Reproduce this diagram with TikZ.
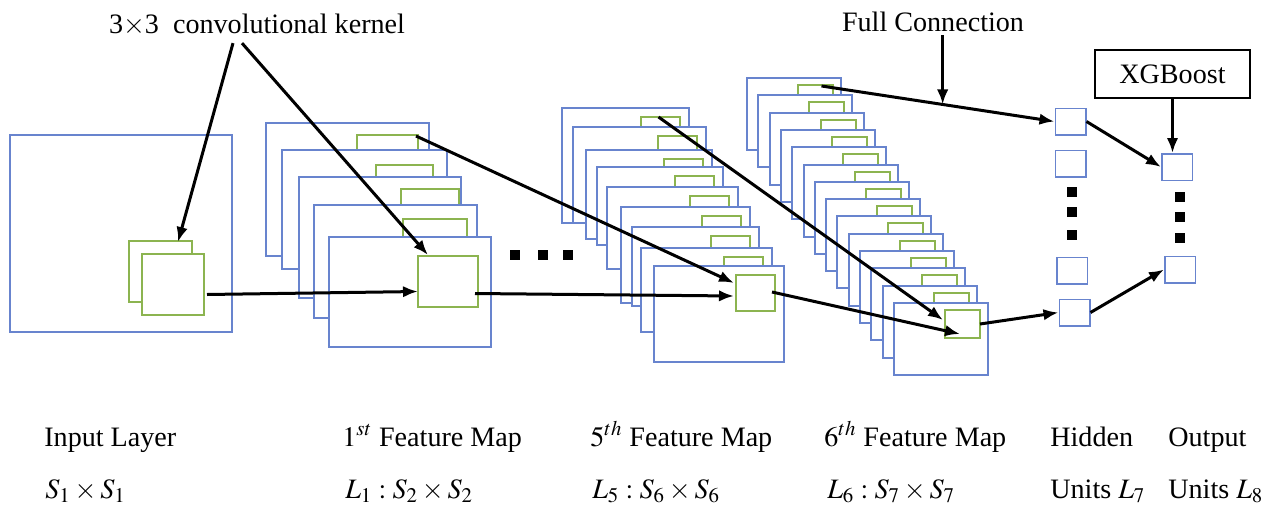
\documentclass[tikz,border=0pt]{standalone}
\usepackage{mathptmx}
\usepackage{fontspec}
\setmainfont{Liberation Serif}
\usetikzlibrary{arrows.meta, calc}

\definecolor{sheetblue}{RGB}{104,132,206}
\definecolor{kerngreen}{RGB}{140,180,80}

\begin{document}
\begin{tikzpicture}[x=0.2mm, y=-0.2mm,
        font=\fontsize{16pt}{19pt}\selectfont,
        sheet/.style={draw=sheetblue, fill=white, line width=0.3mm},
        kern/.style={draw=kerngreen, fill=white, line width=0.3mm,
            inner sep=0pt, outer sep=0pt, anchor=north west},
        unit/.style={draw=sheetblue, fill=white, line width=0.3mm,
            inner sep=0pt, minimum width=6.1mm, minimum height=5.3mm},
        dot/.style={fill=black, inner sep=0pt, minimum size=2.1mm},
        conn/.style={-{Latex[length=3mm,width=2.3mm]}, line width=0.6mm, black},
        lbl/.style={anchor=base west, inner sep=0pt}]

        \useasboundingbox (0,0) rectangle (1267,510);

        % Input layer
        \draw[sheet] (10,135) rectangle (232,332);
        \node[kern, minimum width=12.6mm, minimum height=12.2mm] (kin-1) at (129,241) {};
        \node[kern, minimum width=12.4mm, minimum height=12.2mm] (kin-2) at (142,254) {};

        % 1st feature map
        \foreach \i/\xa/\ya/\xb/\yb/\gx/\gy/\gw in {
                1/266/123/429/256/357/135/61,
                2/282/150/447/269/376/165/57,
                3/299/177/461/298/401/189/58,
                4/314/205/477/318/403/219/64,
                5/329/237/491/347/418/256/60} {
            \draw[sheet] (\xa,\ya) rectangle (\xb,\yb);
            \node[kern, minimum width=\gw*0.2mm, minimum height=10.2mm]
                (k1-\i) at (\gx,\gy) {};
        }

        % 5th feature map
        \foreach \i/\xa/\ya/\xb/\yb in {
                1/562/108/689/223, 2/573/127/706/223, 3/586/150/712/239,
                4/597/167/723/245, 5/607/187/738/269, 6/621/207/750/303,
                7/632/227/759/306, 8/641/248/772/332, 9/654/266/784/362} {
            \draw[sheet] (\xa,\ya) rectangle (\xb,\yb);
            \node[kern, minimum width=7.8mm, minimum height=7.2mm]
                (k5-\i) at (\xb-48,\ya+9) {};
        }

        % 6th feature map
        \foreach \i in {1,...,14} {
            \pgfmathtruncatemacro{\xa}{747+11.3*(\i-1)+0.5}
            \pgfmathtruncatemacro{\ya}{78+17.3*(\i-1)+0.5}
            \draw[sheet] (\xa,\ya) rectangle ++(94,72);
            \node[kern, minimum width=7mm, minimum height=5.6mm]
                (k6-\i) at (\xa+51,\ya+7) {};
        }

        % Dots between the maps
        \foreach \x in {515,543,568}
            \node[dot] at (\x,255) {};

        % Hidden and output units
        \node[unit] (h1) at (1070.5,121.5) {};
        \node[unit] (h2) at (1070.5,163.5) {};
        \node[unit] (h3) at (1072,270.5) {};
        \node[unit] (h4) at (1074.5,312.5) {};
        \node[unit] (o1) at (1177,167) {};
        \node[unit] (o2) at (1180,269.5) {};
        \foreach \y in {192,212,235}
            \node[dot, minimum size=2mm] at (1072,\y) {};
        \foreach \y in {197,217,238}
            \node[dot, minimum size=2mm] at (1180,\y) {};

        % Texts at the top
        \node (kernel) at (257,25) {3$\times$3\ \ convolutional kernel};
        \node (fullconn) at (933,22) {Full Connection};
        \node[draw, line width=0.45mm, minimum width=31mm, minimum height=9.6mm]
            (xgb) at (1172.5,74) {XGBoost};

        % Connect the kernels with arrows
        \draw[conn] ($(kernel.south)+(-24,1)$) -- ($(kin-1.north west)+(49,1)$);
        \draw[conn] ($(kernel.south)+(-15,1)$) -- ($(k1-5.north west)+(10,-1)$);
        \draw[conn] ($(kin-2.east)+(3,10)$) -- ($(k1-5.west)+(0,10)$);
        \draw[conn] ($(k1-1.north east)+(-2,1)$) -- ($(k5-9.north west)+(-2,8)$);
        \draw[conn] ($(k1-5.east)+(-3,12)$) -- ($(k5-9.west)+(-2,3)$);
        \draw[conn] ($(k5-1.north)+(-2,0)$) -- ($(k6-14.north west)+(-2,10)$);
        \draw[conn] ($(k5-9.east)+(-3,-1)$) -- ($(k6-14.south west)+(15,-4)$);
        \draw[conn] ($(k6-1.north)+(6,1)$) -- coordinate[pos=0.52] (fc) (h1.west);
        \draw[conn] ($(fullconn.south -| fc)+(0,-3)$) -- (fc);
        \draw[conn] (k6-14.east) -- (h4.west);
        \draw[conn] (h1.east) -- (o1.west);
        \draw[conn] (h4.east) -- (o2.west);
        \draw[conn] (xgb.south) -- (xgb.south |- o1.north);

        % Labels at the bottom
        \node[lbl] at (44,446) {Input Layer};
        \node[lbl] at (342,446) {$1^{st}$ Feature Map};
        \node[lbl] at (590,446) {$5^{th}$ Feature Map};
        \node[lbl] at (824,446) {$6^{th}$ Feature Map};
        \node[lbl] at (1050,446) {Hidden};
        \node[lbl] at (1168,446) {Output};
        \node[lbl] at (45,498) {$S_1 \times S_1$};
        \node[lbl] at (345,498) {$L_1 : S_2 \times S_2$};
        \node[lbl] at (592,498) {$L_5 : S_6 \times S_6$};
        \node[lbl] at (827,498) {$L_6 : S_7 \times S_7$};
        \node[lbl] at (1050,498) {Units\ $L_7$};
        \node[lbl] at (1168,498) {Units\ $L_8$};
\end{tikzpicture}
\end{document}
